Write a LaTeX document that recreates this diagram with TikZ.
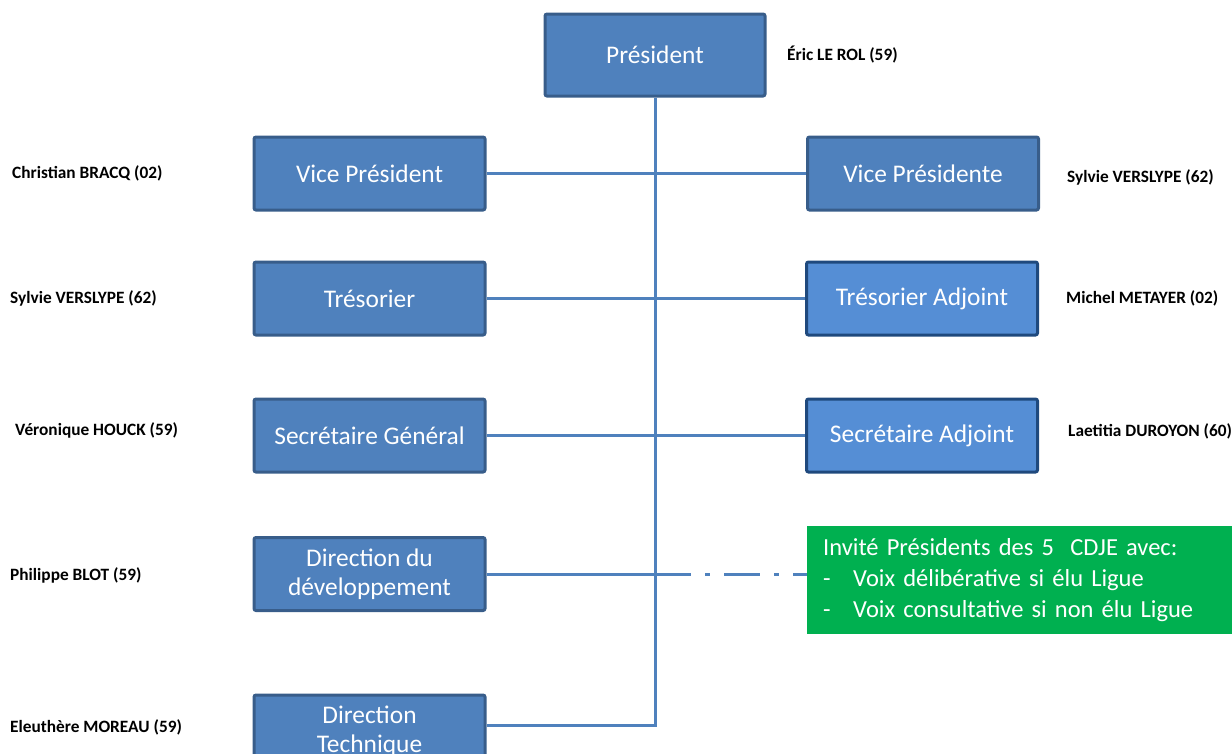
\documentclass[tikz,border=0pt]{standalone}
\usepackage{fontspec}
\setmainfont{Carlito}
\usepackage{tikz}
\usetikzlibrary{positioning}
\definecolor{boxblue}{HTML}{4F81BD}
\definecolor{boxedge}{HTML}{385D8A}
\definecolor{adjblue}{HTML}{558ED5}
\definecolor{adjedge}{HTML}{1F497D}
\definecolor{invgreen}{HTML}{00B050}

\begin{document}
\begin{tikzpicture}[x=1pt,y=-1pt,
    poste/.style={draw=boxedge,fill=boxblue,line width=3pt,rounded corners=2pt,
        minimum width=231pt,minimum height=73pt,inner sep=0pt,text=white,
        align=center,font=\fontsize{25.4}{29.5}\selectfont},
    adjoint/.style={poste,draw=adjedge,fill=adjblue},
    nom/.style={anchor=west,inner sep=0pt,font=\fontsize{17.3}{20}\selectfont\bfseries},
    lien/.style={draw=boxblue,line width=3pt}]

    \clip (0,0) rectangle (1232,753);

    \node[poste,minimum width=220pt,minimum height=82pt] (pres) at (655,55) {Président};
    \node[poste] (vp) at (369.5,173.5) {Vice Président};
    \node[poste] (vpe) at (923,173.5) {Vice Présidente};
    \node[poste] (tres) at (369.5,298.5) {Trésorier};
    \node[adjoint] (tresadj) at (922,298.5) {Trésorier Adjoint};
    \node[poste] (sg) at (369.5,435.5) {Secrétaire Général};
    \node[adjoint] (sa) at (922,435.5) {Secrétaire Adjoint};
    \node[poste] (ddev) at (369.5,574) {Direction du\\développement};
    \node[poste] (dtech) at (369.5,731.5) {Direction\\Technique};

    \node[fill=invgreen,anchor=north west,minimum width=425pt,minimum height=108pt,
        inner xsep=16pt,text width=393pt,align=left,text=white,
        font=\fontsize{24.5}{31}\selectfont] (invite) at (807,526)
        {Invité Présidents des 5\ \ CDJE avec:\\
         \makebox[30pt][l]{-}Voix délibérative si élu Ligue\\
         \makebox[30pt][l]{-}Voix consultative si non élu Ligue};

    \draw[lien] (pres.south) |- ([yshift=6.5pt]dtech.east);
    \draw[lien] (vp) -- (vpe);
    \draw[lien] (tres) -- (tresadj);
    \draw[lien] (sg) -- (sa);
    \coordinate (jonction) at (pres.south |- ddev.east);
    \draw[lien] (ddev) -- (jonction);
    \draw[lien,dash pattern=on 36pt off 14pt on 5pt off 14pt] (jonction) -- (invite.west |- ddev.east);

    \node[nom] (nompres) at (787,55) {Éric LE ROL (59)};
    \node[nom] (nomvp) at (12,173) {Christian BRACQ (02)};
    \node[nom] (nomvpe) at (1067,177) {Sylvie VERSLYPE (62)};
    \node[nom] (nomtres) at (10,298) {Sylvie VERSLYPE (62)};
    \node[nom] (nomtresadj) at (1066,298) {Michel METAYER (02)};
    \node[nom] (nomsg) at (15,430) {Véronique HOUCK (59)};
    \node[nom] (nomsa) at (1068,431) {Laetitia DUROYON (60)};
    \node[nom] (nomddev) at (10,575) {Philippe BLOT (59)};
    \node[nom] (nomdtech) at (10,727) {Eleuthère MOREAU (59)};
\end{tikzpicture}
\end{document}
